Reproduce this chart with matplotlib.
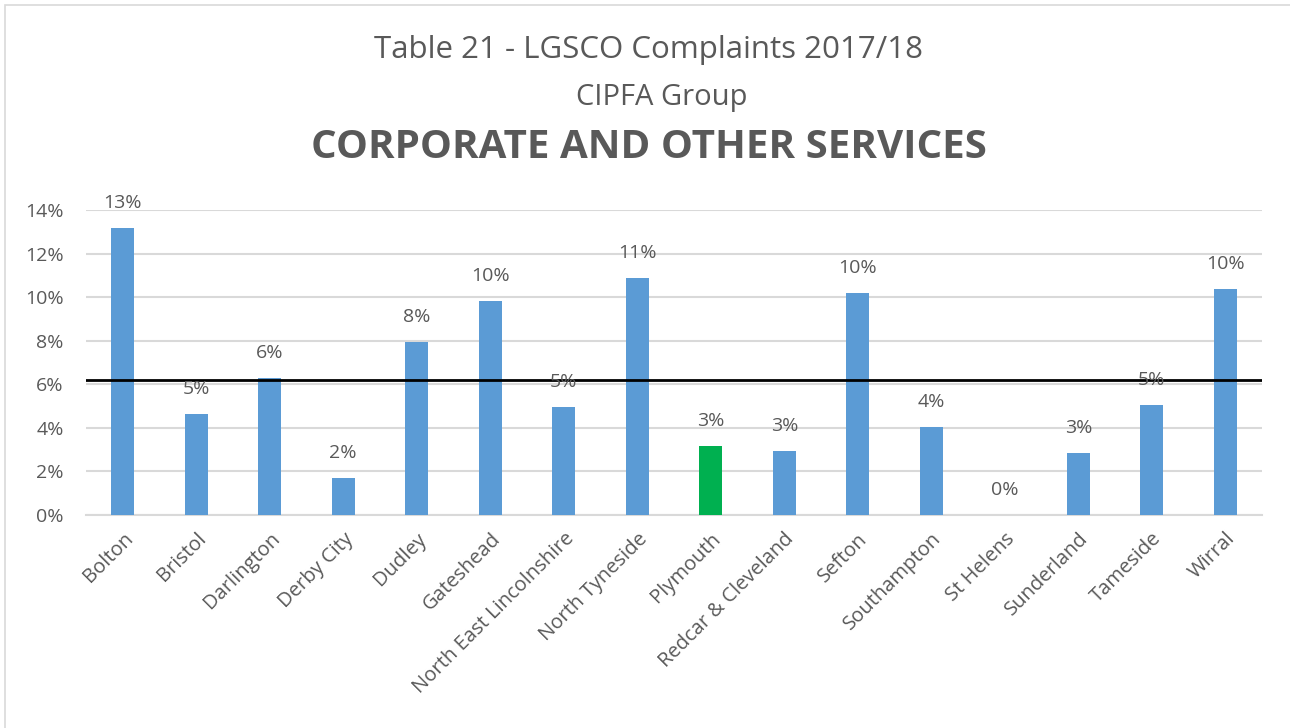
import matplotlib
matplotlib.use("Agg")
import matplotlib.pyplot as plt
from matplotlib.patches import Rectangle

# Values (share of complaints, %)
councils = ["Bolton", "Bristol", "Darlington", "Derby City", "Dudley", "Gateshead",
            "North East Lincolnshire", "North Tyneside", "Plymouth", "Redcar & Cleveland",
            "Sefton", "Southampton", "St Helens", "Sunderland", "Tameside", "Wirral"]
pct = [13.16, 4.64, 6.30, 1.71, 7.94, 9.82, 4.94, 10.88, 3.17, 2.94,
       10.18, 4.05, 0.0, 2.83, 5.05, 10.36]
group_average = 6.2
highlight = "Plymouth"

title_lines = ["Table 21 - LGSCO Complaints 2017/18", "CIPFA Group"]
subtitle = "CORPORATE AND OTHER SERVICES"

TEXT = "#595959"
BLUE = "#5B9BD5"
GREEN = "#00B050"

plt.rcParams["font.family"] = ["Open Sans", "DejaVu Sans"]

fig = plt.figure(figsize=(12.9, 7.28), dpi=100)
ax = fig.add_axes([86 / 1290, 1 - 515 / 728, (1262 - 86) / 1290, (515 - 210) / 728])

# light frame round the whole chart, like the Excel chart area
fig.patches.append(Rectangle((5 / 1290, -0.01), 1.0, 1 - 5 / 728 + 0.01,
                             transform=fig.transFigure, fill=False,
                             edgecolor="#D9D9D9", linewidth=1.2))

x = list(range(len(councils)))
colors = [GREEN if c == highlight else BLUE for c in councils]
ax.bar(x, pct, width=0.31, color=colors, zorder=3)

for xi, v in zip(x, pct):
    ax.annotate(f"{v:.0f}%", (xi, v), xytext=(0, 18), textcoords="offset points",
                ha="center", va="center", fontsize=14, color=TEXT, zorder=5)

ax.axhline(group_average, color="black", linewidth=2, zorder=4)

ax.set_xlim(-0.5, len(councils) - 0.5)
ax.set_ylim(0, 14)
ax.set_yticks(range(0, 15, 2))
ax.set_yticklabels([f"{t}%" for t in range(0, 15, 2)])
ax.yaxis.grid(True, color="#D9D9D9", linewidth=1.5, zorder=0)
ax.set_axisbelow(True)

ax.set_xticks(x)
ax.set_xticklabels(councils, rotation=45, ha="right", rotation_mode="anchor")
ax.tick_params(axis="both", length=0, labelsize=14, labelcolor=TEXT)
ax.tick_params(axis="x", labelsize=14.5, pad=10)
ax.tick_params(axis="y", pad=16)

for side in ["top", "right", "left"]:
    ax.spines[side].set_visible(False)
ax.spines["bottom"].set_color("#D9D9D9")
ax.spines["bottom"].set_linewidth(1.5)

fig.text(649 / 1290, 1 - 50 / 728, title_lines[0], ha="center", va="center",
         fontsize=22.5, color=TEXT)
fig.text(662 / 1290, 1 - 97 / 728, title_lines[1], ha="center", va="center",
         fontsize=21, color=TEXT)
fig.text(649 / 1290, 1 - 148 / 728, subtitle, ha="center", va="center",
         fontsize=29, fontweight="bold", color=TEXT)

fig.savefig("out.png", dpi=100, facecolor="white")
